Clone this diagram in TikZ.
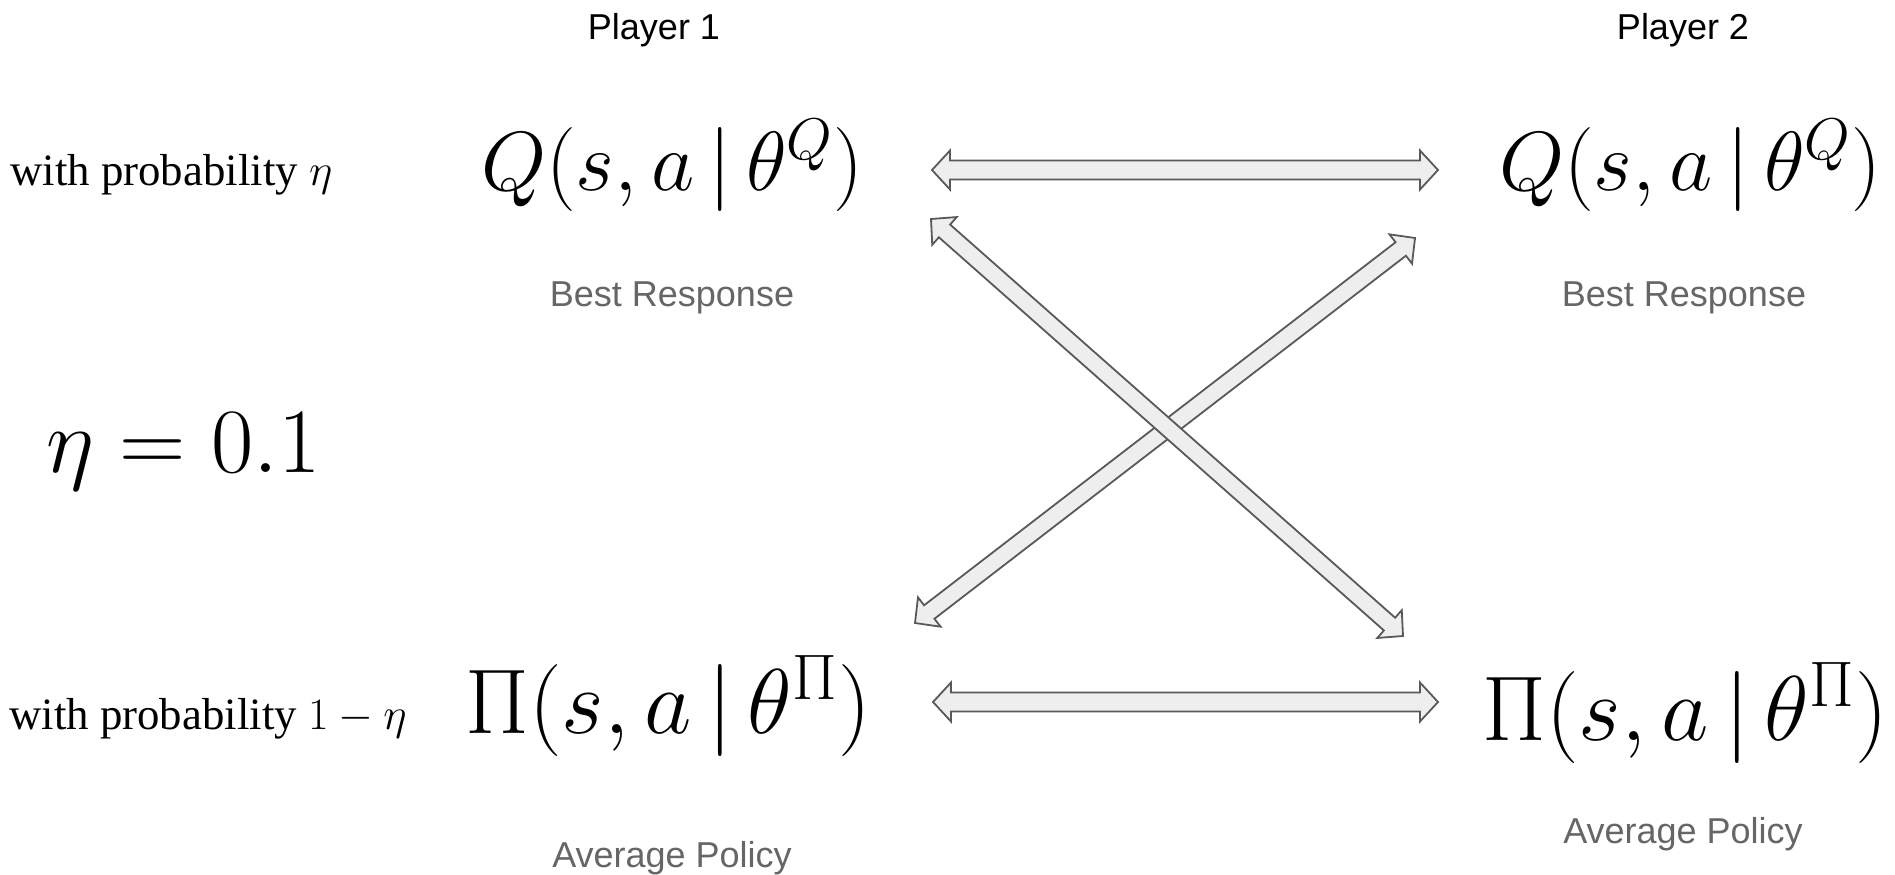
\RequirePackage{fix-cm}
\documentclass[tikz,border=0pt]{standalone}
\usepackage[no-math]{fontspec}
\newfontfamily\labelsans{Liberation Sans}
\newfontfamily\labelserif{Liberation Serif}
\usetikzlibrary{calc}
\definecolor{arrowfill}{HTML}{EEEEEE}
\definecolor{arrowline}{HTML}{595959}
\definecolor{captiongray}{HTML}{666666}
% flat double-headed block arrow: tips, half shaft width, half head width
\newcommand{\bidiarrow}[4]{%
  \coordinate (#1-h) at ($(#1)!9pt!(#2)$);
  \coordinate (#2-h) at ($(#2)!9pt!(#1)$);
  \draw[blockarrow] (#1)
    -- ($(#1-h)!#4!90:(#2)$) -- ($(#1-h)!#3!90:(#2)$)
    -- ($(#2-h)!#3!-90:(#1)$) -- ($(#2-h)!#4!-90:(#1)$)
    -- (#2)
    -- ($(#2-h)!#4!90:(#1)$) -- ($(#2-h)!#3!90:(#1)$)
    -- ($(#1-h)!#3!-90:(#2)$) -- ($(#1-h)!#4!-90:(#2)$)
    -- cycle;}
\begin{document}
\begin{tikzpicture}[x=0.5pt,y=-0.5pt,
  player/.style={font=\labelsans\fontsize{18}{22}\selectfont},
  role/.style={font=\labelsans\fontsize{18}{22}\selectfont, text=captiongray},
  prob/.style={font=\labelserif\fontsize{22.4}{26}\selectfont, anchor=base west, inner sep=0pt},
  qform/.style={font=\fontsize{42}{50}\selectfont, anchor=base, inner sep=0pt},
  piform/.style={font=\fontsize{46}{54}\selectfont, anchor=base, inner sep=0pt},
  blockarrow/.style={draw=arrowline, fill=arrowfill, line width=0.9pt, line join=miter}]
\useasboundingbox[fill=white] (0,0) rectangle (1895,874);

\node[player] (p1) at (654,30) {Player 1};
\node[player] (p2) at (1683,30) {Player 2};

\node[prob] (withq) at (10,185) {with probability $\eta$};
\node[qform] (q1) at (672,190) {$Q(s,a\,|\,\theta^Q)$};
\node[qform] (q2) at (1690,190) {$Q(s,a\,|\,\theta^Q)$};
\node[role] (br1) at (672,298) {Best Response};
\node[role] (br2) at (1684,298) {Best Response};

\node[font=\fontsize{46}{54}\selectfont, anchor=base west, inner sep=0pt] (eta) at (46,472) {$\eta = 0.1$};

\node[prob] (withpi) at (9,729) {with probability $1-\eta$};
\node[piform] (pi1) at (668,733) {$\Pi(s,a\,|\,\theta^\Pi)$};
\node[piform] (pi2) at (1685,740) {$\Pi(s,a\,|\,\theta^\Pi)$};
\node[role] (ap1) at (672,858) {Average Policy};
\node[role] (ap2) at (1683,834) {Average Policy};

\coordinate (q1r) at (932,170);
\coordinate (q2l) at (1438,170);
\coordinate (pi1r) at (933,702);
\coordinate (pi2l) at (1438,702);
\coordinate (q1d) at (931,219);
\coordinate (pi2u) at (1403,636);
\coordinate (pi1u) at (915,623);
\coordinate (q2d) at (1415,238);

\bidiarrow{q1r}{q2l}{4.75pt}{9.75pt}
\bidiarrow{pi1r}{pi2l}{4.75pt}{9.75pt}
\bidiarrow{pi1u}{q2d}{4.25pt}{9.25pt}
\bidiarrow{q1d}{pi2u}{4.25pt}{9.25pt}
\end{tikzpicture}
\end{document}
